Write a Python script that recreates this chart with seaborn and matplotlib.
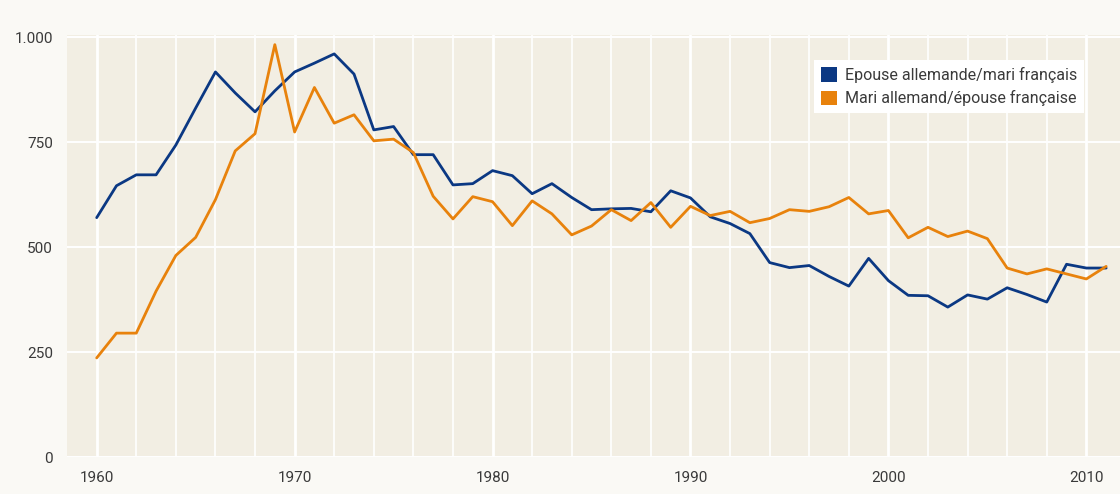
import numpy as np
import pandas as pd
import matplotlib
matplotlib.use("Agg")
import matplotlib.pyplot as plt
from matplotlib.patches import Patch
from matplotlib.ticker import MultipleLocator, FuncFormatter
import seaborn as sns

# Data
years = list(range(1960, 2012))
epouse_allemande = [570, 646, 672, 672, 743, 831, 917, 867, 822, 872,
                    917, 938, 960, 912, 779, 787, 720, 720, 648, 651,
                    682, 670, 627, 651, 618, 589, 591, 592, 584, 634,
                    617, 572, 556, 532, 463, 451, 456, 430, 407, 473,
                    420, 385, 384, 357, 386, 376, 403, 387, 369, 459,
                    450, 450]
mari_allemand = [236, 295, 295, 395, 480, 523, 613, 729, 770, 982,
                 774, 880, 795, 815, 753, 757, 725, 621, 567, 620,
                 608, 551, 610, 579, 529, 550, 589, 563, 606, 547,
                 597, 575, 585, 558, 568, 589, 585, 596, 618, 579,
                 587, 522, 547, 525, 538, 520, 450, 436, 448, 436,
                 424, 454]
series_names = ["Epouse allemande/mari français", "Mari allemand/épouse française"]
colors = ["#0b3883", "#e8820c"]

df = pd.DataFrame({"year": years * 2,
                   "value": epouse_allemande + mari_allemand,
                   "serie": [series_names[0]] * len(years) + [series_names[1]] * len(years)})

sns.set_theme(style="white")
plt.rcParams['font.family'] = ['Roboto', 'DejaVu Sans']

fig = plt.figure(figsize=(11.2, 4.94), dpi=100, facecolor="#faf9f5")
ax = fig.add_axes([67 / 1120, 1 - 457 / 494, 1 - 67 / 1120, (457 - 35) / 494])
ax.set_facecolor("#f2eee3")

sns.lineplot(data=df, x="year", y="value", hue="serie", palette=colors,
             linewidth=2.0, ax=ax, legend=False, zorder=3)

ax.set_xlim(1958.5, 2011.7)
ax.set_ylim(0, 1005)
ax.xaxis.set_major_locator(MultipleLocator(10))
ax.xaxis.set_minor_locator(MultipleLocator(2))
ax.yaxis.set_major_locator(MultipleLocator(250))
ax.yaxis.set_major_formatter(FuncFormatter(lambda v, p: f"{int(v):,}".replace(",", ".")))
ax.grid(which="major", axis="x", color="white", linewidth=2.0, zorder=1)
ax.grid(which="minor", axis="x", color="white", linewidth=1.2, zorder=1)
ax.grid(which="major", axis="y", color="white", linewidth=1.4, zorder=1)
ax.set_axisbelow(True)
for s in ax.spines.values():
    s.set_visible(False)
ax.tick_params(which="both", length=0, labelsize=11, colors="#3a3a3a")
ax.tick_params(axis="x", pad=10)
ax.tick_params(axis="y", pad=10)
ax.set_xlabel("")
ax.set_ylabel("")

handles = [Patch(facecolor=c, edgecolor="none") for c in colors]
leg = ax.legend(handles, series_names, loc="upper left", bbox_to_anchor=(0.709, 0.941),
                borderaxespad=0, frameon=True, fancybox=False, framealpha=1,
                edgecolor="none", facecolor="white", fontsize=11.5,
                handlelength=1.0, handleheight=1.0, handletextpad=0.5,
                labelspacing=0.45, borderpad=0.45)
for t in leg.get_texts():
    t.set_color("#3a3a3a")

fig.savefig("out.png", dpi=100, facecolor=fig.get_facecolor())
